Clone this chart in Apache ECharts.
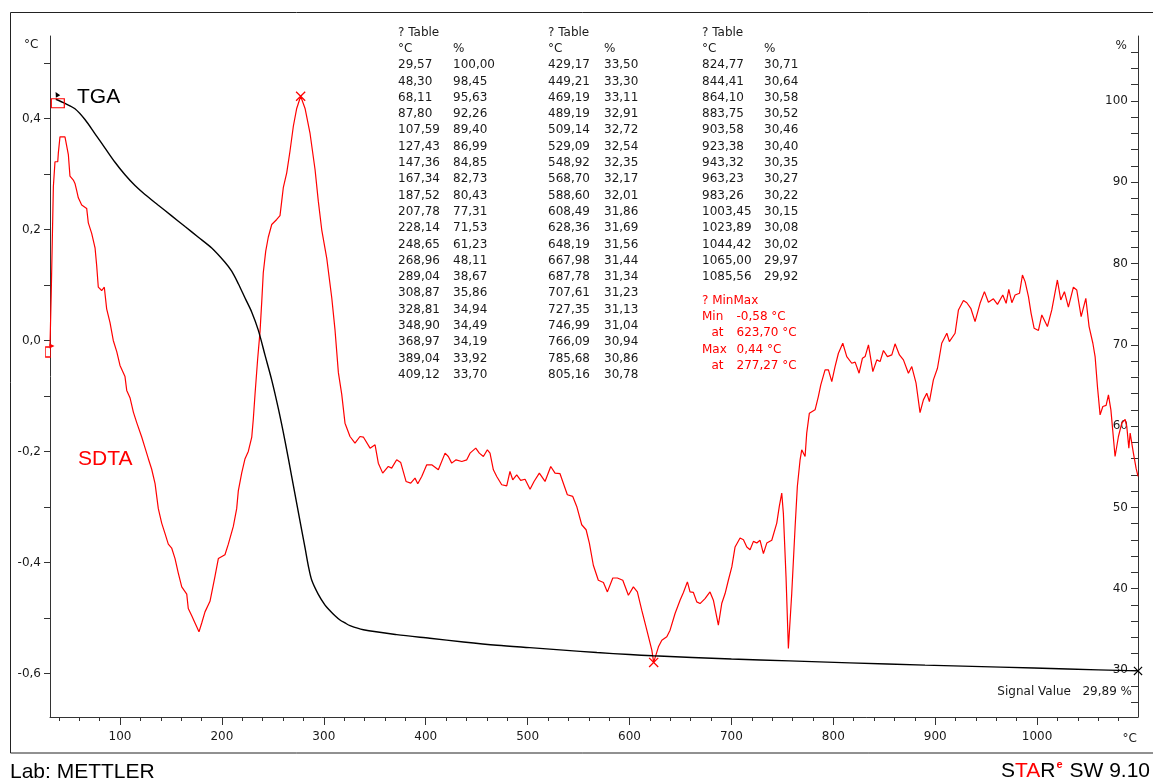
<!DOCTYPE html>
<html>
<head>
<meta charset="utf-8">
<title>TGA / SDTA</title>
<script src="https://cdn.jsdelivr.net/npm/echarts@6.0.0/dist/echarts.min.js"></script>
<style>
	html, body { margin: 0; padding: 0; background: #fff; }
	#chart { width: 1153px; height: 782px; }
</style>
</head>
<body>
<div id="chart"></div>
<script>
// SDTA signal (°C) against temperature (°C)
const sdtaTemp = [
	31.3, 32.5, 34.6, 36.2, 38.9, 39.5, 41.1, 46.0, 47.7, 49.3, 50.9, 54.2, 55.8, 57.5, 59.1, 62.4,
	67.3, 68.9, 72.2, 75.5, 77.1, 78.7, 82.0, 84.6, 86.9, 90.2, 93.4, 96.8, 100.0, 104.9, 106.6, 109.8,
	113.1, 116.4, 121.3, 124.5, 127.8, 131.1, 134.4, 137.6, 140.9, 144.2, 147.4, 150.7, 154.0, 157.2,
	160.6, 165.5, 167.0, 170.4, 173.6, 177.5, 180.2, 183.4, 188.3, 193.2, 196.5, 203.0, 206.3, 211.2,
	214.5, 216.1, 219.4, 222.7, 225.9, 229.3, 230.8, 232.5, 235.1, 237.4, 239.1, 240.6, 243.0, 245.5,
	248.9, 253.8, 257.0, 258.7, 260.3, 263.6, 266.8, 270.1, 273.4, 277.3, 281.6, 286.5, 291.4, 294.6,
	298.0, 302.9, 307.8, 311.0, 314.3, 317.6, 320.8, 325.7, 330.6, 335.5, 338.8, 345.4, 350.3, 353.5,
	357.8, 363.3, 366.6, 371.5, 375.5, 380.7, 385.3, 389.5, 392.2, 396.1, 401.0, 405.9, 412.4, 419.0,
	422.2, 425.5, 429.8, 435.4, 440.3, 443.5, 449.1, 452.6, 456.6, 460.5, 463.1, 466.4, 469.7, 474.6,
	479.5, 482.7, 485.4, 489.3, 493.2, 497.5, 502.4, 506.3, 511.5, 517.1, 522.7, 526.9, 531.8, 539.0,
	544.3, 548.2, 553.1, 557.4, 560.6, 564.5, 569.4, 574.4, 578.3, 583.6, 588.1, 593.4, 598.9, 603.8,
	607.7, 612.0, 617.0, 621.9, 623.7, 628.4, 631.7, 636.6, 639.8, 644.7, 649.6, 652.9, 656.8, 659.4,
	662.7, 666.0, 669.2, 674.1, 679.0, 682.3, 687.2, 690.5, 693.8, 697.0, 700.4, 703.6, 708.5, 711.8,
	715.1, 718.3, 721.6, 724.9, 728.1, 731.4, 734.7, 739.6, 744.5, 747.0, 749.4, 751.0, 753.6, 755.9,
	759.2, 762.5, 764.7, 767.4, 769.0, 772.3, 773.9, 776.5, 782.1, 785.3, 787.7, 791.9, 795.2, 798.5,
	801.7, 805.0, 809.3, 813.2, 818.1, 821.4, 825.3, 828.6, 831.2, 834.5, 838.8, 842.7, 845.9, 849.2,
	853.1, 857.4, 860.6, 864.9, 868.8, 873.7, 877.0, 881.2, 885.1, 888.4, 891.7, 894.3, 898.2, 902.2,
	906.4, 911.4, 913.9, 919.5, 922.8, 927.7, 931.0, 934.9, 939.1, 944.0, 948.3, 952.2, 957.1, 961.1,
	966.3, 969.6, 972.2, 975.2, 978.4, 982.7, 985.6, 988.2, 991.5, 994.1, 997.1, 1001.3, 1004.6, 1010.1,
	1014.4, 1019.9, 1023.2, 1026.8, 1030.7, 1035.6, 1038.9, 1043.2, 1047.8, 1051.0, 1054.7, 1056.9,
	1059.2, 1061.8, 1064.5, 1067.7, 1070.0, 1072.4, 1076.5, 1079.8, 1083.1, 1086.4, 1088.0, 1090.0,
	1091.3, 1094.5, 1097.1, 1099.0
];
const sdtaValue = [
	-0.010, 0.084, 0.277, 0.322, 0.322, 0.338, 0.367, 0.367, 0.366, 0.335, 0.296, 0.289, 0.283, 0.270, 0.257, 0.244,
	0.238, 0.212, 0.193, 0.167, 0.135, 0.096, 0.090, 0.096, 0.057, 0.032, 0.000, -0.020, -0.045, -0.065, -0.090, -0.103,
	-0.129, -0.148, -0.174, -0.193, -0.213, -0.232, -0.258, -0.303, -0.329, -0.348, -0.367, -0.374, -0.393, -0.419,
	-0.444, -0.457, -0.483, -0.496, -0.509, -0.525, -0.509, -0.489, -0.470, -0.425, -0.393, -0.386, -0.367, -0.335,
	-0.303, -0.271, -0.239, -0.213, -0.200, -0.174, -0.142, -0.097, -0.033, 0.016, 0.070, 0.122, 0.161, 0.186,
	0.209, 0.218, 0.225, 0.251, 0.276, 0.302, 0.341, 0.386, 0.418, 0.440, 0.418, 0.373, 0.308, 0.251,
	0.199, 0.148, 0.077, 0.019, -0.058, -0.097, -0.149, -0.173, -0.185, -0.173, -0.174, -0.194, -0.188, -0.221,
	-0.239, -0.227, -0.230, -0.215, -0.220, -0.254, -0.257, -0.248, -0.258, -0.245, -0.224, -0.224, -0.233, -0.203,
	-0.209, -0.221, -0.215, -0.218, -0.215, -0.203, -0.194, -0.203, -0.209, -0.197, -0.203, -0.233, -0.245, -0.260,
	-0.262, -0.236, -0.251, -0.242, -0.252, -0.250, -0.268, -0.254, -0.239, -0.254, -0.227, -0.239, -0.240, -0.278,
	-0.281, -0.299, -0.332, -0.341, -0.365, -0.405, -0.432, -0.436, -0.453, -0.428, -0.428, -0.432, -0.459, -0.444,
	-0.453, -0.486, -0.522, -0.558, -0.580, -0.552, -0.540, -0.534, -0.522, -0.492, -0.468, -0.454, -0.435, -0.453,
	-0.454, -0.471, -0.474, -0.465, -0.453, -0.468, -0.513, -0.474, -0.456, -0.432, -0.408, -0.372, -0.356, -0.359,
	-0.372, -0.377, -0.362, -0.365, -0.360, -0.384, -0.365, -0.360, -0.329, -0.299, -0.275, -0.312, -0.426, -0.555,
	-0.456, -0.336, -0.263, -0.215, -0.197, -0.209, -0.167, -0.131, -0.125, -0.101, -0.080, -0.053, -0.053, -0.074,
	-0.047, -0.023, -0.005, -0.029, -0.041, -0.039, -0.059, -0.032, -0.029, -0.008, -0.056, -0.035, -0.038, -0.018,
	-0.029, -0.026, -0.006, -0.026, -0.035, -0.059, -0.047, -0.077, -0.130, -0.107, -0.095, -0.110, -0.071, -0.050,
	-0.005, 0.013, -0.002, 0.013, 0.055, 0.072, 0.068, 0.058, 0.034, 0.067, 0.088, 0.069, 0.075, 0.065,
	0.082, 0.067, 0.092, 0.068, 0.082, 0.085, 0.118, 0.106, 0.079, 0.049, 0.022, 0.018, 0.046, 0.025,
	0.055, 0.109, 0.073, 0.088, 0.060, 0.096, 0.091, 0.043, 0.076, 0.025, -0.005, -0.029,
	-0.083, -0.134, -0.119, -0.117, -0.098, -0.125, -0.209, -0.173, -0.149, -0.142, -0.155, -0.194,
	-0.167, -0.203, -0.230, -0.245
];

// TGA mass (%) against temperature (°C)
const tgaTemp = [
	37.0, 46.0, 55.8, 65.6, 75.5, 85.3, 95.1, 104.9, 114.7, 124.5, 137.6, 150.7, 163.8, 176.9, 190.0,
	203.0, 209.6, 216.1, 222.7, 229.3, 235.7, 242.3, 248.9, 255.4, 261.9, 268.5, 275.0, 281.6, 284.8,
	288.1, 294.6, 301.2, 306.1, 311.0, 315.9, 320.8, 325.7, 338.8, 371.5, 404, 437, 470, 502, 535, 568,
	600, 623, 700, 757, 816, 890, 964, 1030, 1099
];
const tgaValue = [
	100.2, 99.69, 99.03, 97.71, 95.95, 94.20, 92.45, 90.91, 89.59, 88.49, 87.17, 85.86, 84.54, 83.23, 81.90,
	80.15, 79.05, 77.51, 75.75, 74.01, 71.80, 68.73, 65.66, 62.14, 58.19, 53.80, 49.41, 45.01, 42.82,
	41.07, 39.31, 37.99, 37.30, 36.68, 36.15, 35.79, 35.45, 34.95, 34.35, 33.90, 33.45, 33.05, 32.75, 32.45, 32.15,
	31.90, 31.75, 31.35, 31.12, 30.88, 30.60, 30.36, 30.12, 29.89
];

// axis ticks
const xTicks = [ 100, 200, 300, 400, 500, 600, 700, 800, 900, 1000 ];
const xMinorTicks = [
	40, 60, 80, 120, 140, 160, 180, 220, 240, 260, 280, 320, 340, 360, 380, 420, 440, 460, 480,
	520, 540, 560, 580, 620, 640, 660, 680, 720, 740, 760, 780, 820, 840, 860, 880,
	920, 940, 960, 980, 1020, 1040, 1060, 1080
];
const leftTicks = [ -0.6, -0.4, -0.2, 0, 0.2, 0.4 ];
const leftMinorTicks = [ -0.6, -0.5, -0.4, -0.3, -0.2, -0.1, 0, 0.1, 0.2, 0.3, 0.4, 0.5 ];
const rightTicks = [ 30, 40, 50, 60, 70, 80, 90, 100 ];
const rightMinorTicks = [
	26, 28, 30, 32, 34, 36, 38, 40, 42, 44, 46, 48, 50, 52, 54, 56, 58, 60, 62, 64, 66, 68,
	70, 72, 74, 76, 78, 80, 82, 84, 86, 88, 90, 92, 94, 96, 98, 100, 102, 104, 106
];

// evaluation results printed on the plot
const sdtaMin = [ 623.70, -0.58 ];
const sdtaMax = [ 277.27, 0.44 ];
const signalText = 'Signal Value   29,89 %';

const table1Temp = [ '29,57', '48,30', '68,11', '87,80', '107,59', '127,43', '147,36', '167,34', '187,52', '207,78',
	'228,14', '248,65', '268,96', '289,04', '308,87', '328,81', '348,90', '368,97', '389,04', '409,12' ];
const table1Pct = [ '100,00', '98,45', '95,63', '92,26', '89,40', '86,99', '84,85', '82,73', '80,43', '77,31',
	'71,53', '61,23', '48,11', '38,67', '35,86', '34,94', '34,49', '34,19', '33,92', '33,70' ];
const table2Temp = [ '429,17', '449,21', '469,19', '489,19', '509,14', '529,09', '548,92', '568,70', '588,60', '608,49',
	'628,36', '648,19', '667,98', '687,78', '707,61', '727,35', '746,99', '766,09', '785,68', '805,16' ];
const table2Pct = [ '33,50', '33,30', '33,11', '32,91', '32,72', '32,54', '32,35', '32,17', '32,01', '31,86',
	'31,69', '31,56', '31,44', '31,34', '31,23', '31,13', '31,04', '30,94', '30,86', '30,78' ];
const table3Temp = [ '824,77', '844,41', '864,10', '883,75', '903,58', '923,38', '943,32', '963,23', '983,26',
	'1003,45', '1023,89', '1044,42', '1065,00', '1085,56' ];
const table3Pct = [ '30,71', '30,64', '30,58', '30,52', '30,46', '30,40', '30,35', '30,27', '30,22',
	'30,15', '30,08', '30,02', '29,97', '29,92' ];
const minMaxLabels = [ '? MinMax', 'Min', '', 'Max', '' ];
const minMaxAt = [ '', '', 'at', '', 'at' ];
const minMaxValues = [ '', '-0,58 °C', '623,70 °C', '0,44 °C', '277,27 °C' ];

const RED = '#ff0000';
const INK = '#1a1a1a';
const SMALL_FONT = '12px "DejaVu Sans"';
const CROSS = 'path://M0,0.9L0.9,0L10,9.1L9.1,10ZM9.1,0L10,0.9L0.9,10L0,9.1Z';

const starChart = {
	rowHeight: 16.3,

	init: function () {
		const chart = echarts.init( document.getElementById( 'chart' ), null, { renderer: 'canvas' } );
		chart.setOption( {
			animation: false,
			backgroundColor: '#fff',
			grid: { left: 50, right: 15, top: 36, bottom: 65, containLabel: false, outerBoundsMode: 'none' },
			xAxis: this.buildXAxes(),
			yAxis: this.buildYAxes(),
			series: this.buildSeries(),
			graphic: this.buildTexts()
		} );
	},

	pairs: function ( xs, ys ) {
		return xs.map( ( x, i ) => [ x, ys[ i ] ] );
	},

	buildXAxes: function () {
		const base = {
			type: 'value',
			position: 'bottom',
			min: 31.3,
			max: 1099,
			splitLine: { show: false }
		};
		return [
			Object.assign( {}, base, {
				axisLine: { show: true, onZero: false, lineStyle: { color: '#333', width: 1 } },
				axisTick: { show: true, length: 8, customValues: xTicks, lineStyle: { color: '#333' } },
				axisLabel: {
					show: true,
					customValues: xTicks,
					margin: 14,
					color: INK,
					fontSize: 12,
					fontFamily: 'DejaVu Sans',
					formatter: ( v ) => String( v )
				}
			} ),
			// minor ticks every 20 °C
			Object.assign( {}, base, {
				axisLine: { show: false, onZero: false },
				axisTick: { show: true, length: 4, customValues: xMinorTicks, lineStyle: { color: '#333' } },
				axisLabel: { show: false }
			} )
		];
	},

	buildYAxes: function () {
		return [
			{
				type: 'value',
				position: 'left',
				min: -0.6784,
				max: 0.5486,
				splitLine: { show: false },
				axisLine: { show: true, onZero: false, lineStyle: { color: '#333', width: 1 } },
				axisTick: { show: true, length: 6, customValues: leftMinorTicks, lineStyle: { color: '#333' } },
				axisLabel: {
					show: true,
					customValues: leftTicks,
					margin: 9,
					color: INK,
					fontSize: 12,
					fontFamily: 'DejaVu Sans',
					formatter: ( v ) => v.toFixed( 1 ).replace( '.', ',' )
				}
			},
			{
				type: 'value',
				position: 'right',
				min: 24.22,
				max: 107.98,
				splitLine: { show: false },
				axisLine: { show: true, onZero: false, lineStyle: { color: '#333', width: 1 } },
				axisTick: { show: true, inside: true, length: 7, customValues: rightMinorTicks, lineStyle: { color: '#333' } },
				axisLabel: {
					show: true,
					inside: true,
					customValues: rightTicks,
					margin: 10,
					color: INK,
					fontSize: 12,
					fontFamily: 'DejaVu Sans'
				}
			}
		];
	},

	buildSeries: function () {
		return [
			{
				type: 'line',
				name: 'SDTA',
				xAxisIndex: 0,
				yAxisIndex: 0,
				data: this.pairs( sdtaTemp, sdtaValue ),
				showSymbol: false,
				lineStyle: { color: RED, width: 1.2 },
				markPoint: {
					silent: true,
					label: { show: false },
					itemStyle: { color: RED },
					data: [
						{ coord: sdtaMin, symbol: CROSS, symbolSize: 10 },
						{ coord: sdtaMax, symbol: CROSS, symbolSize: 10 },
						// start of curve markers
						{ coord: [ sdtaTemp[ 0 ], sdtaValue[ 0 ] ], symbol: 'triangle', symbolRotate: -90, symbolSize: 5, symbolOffset: [ 2, 0 ] },
						{
							coord: [ sdtaTemp[ 0 ], sdtaValue[ 0 ] ],
							symbol: 'rect',
							symbolSize: [ 5, 10 ],
							symbolOffset: [ -2, 6 ],
							itemStyle: { color: 'rgba(0,0,0,0)', borderColor: RED, borderWidth: 1 }
						}
					]
				}
			},
			{
				type: 'line',
				name: 'TGA',
				xAxisIndex: 0,
				yAxisIndex: 1,
				data: this.pairs( tgaTemp, tgaValue ),
				showSymbol: false,
				smooth: 0.3,
				lineStyle: { color: '#000', width: 1.4 },
				markPoint: {
					silent: true,
					label: { show: false },
					itemStyle: { color: '#000' },
					data: [
						{ coord: [ tgaTemp[ tgaTemp.length - 1 ], tgaValue[ tgaValue.length - 1 ] ], symbol: CROSS, symbolSize: 9 },
						{ coord: [ tgaTemp[ 0 ], tgaValue[ 0 ] ], symbol: 'triangle', symbolRotate: 30, symbolSize: 5, symbolOffset: [ 1, -5 ] },
						{
							coord: [ tgaTemp[ 0 ], tgaValue[ 0 ] ],
							symbol: 'rect',
							symbolSize: [ 13, 9 ],
							symbolOffset: [ 2, 4 ],
							itemStyle: { color: 'rgba(0,0,0,0)', borderColor: RED, borderWidth: 1 }
						}
					]
				}
			}
		];
	},

	textBlock: function ( x, y, lines, fill ) {
		return {
			type: 'text',
			x: x,
			y: y,
			silent: true,
			style: {
				text: lines.join( '\n' ),
				font: SMALL_FONT,
				fill: fill || INK,
				lineHeight: this.rowHeight,
				textVerticalAlign: 'top',
				verticalAlign: 'top'
			}
		};
	},

	label: function ( x, y, text, font, fill, align ) {
		return {
			type: 'text',
			x: x,
			y: y,
			silent: true,
			style: { text: text, font: font, fill: fill, align: align || 'left', verticalAlign: 'middle' }
		};
	},

	buildTexts: function () {
		const top = 24.4;
		const texts = [
			// outer frame
			{
				type: 'rect',
				silent: true,
				shape: { x: 10.5, y: 12.5, width: 1150, height: 740.5 },
				style: { fill: 'none', stroke: '#222', lineWidth: 1 }
			},
			// measurement tables
			this.textBlock( 398, top, [ '? Table', '°C' ].concat( table1Temp ) ),
			this.textBlock( 453, top, [ '', '%' ].concat( table1Pct ) ),
			this.textBlock( 548, top, [ '? Table', '°C' ].concat( table2Temp ) ),
			this.textBlock( 604, top, [ '', '%' ].concat( table2Pct ) ),
			this.textBlock( 702, top, [ '? Table', '°C' ].concat( table3Temp ) ),
			this.textBlock( 764, top, [ '', '%' ].concat( table3Pct ) ),
			this.textBlock( 702, 292.5, minMaxLabels, RED ),
			this.textBlock( 711.5, 292.5, minMaxAt, RED ),
			this.textBlock( 736.5, 292.5, minMaxValues, RED ),
			// axis units
			this.label( 24, 45, '°C', SMALL_FONT, INK ),
			this.label( 1127, 46, '%', SMALL_FONT, INK, 'right' ),
			this.label( 1137, 739, '°C', SMALL_FONT, INK, 'right' ),
			this.label( 1132, 692, signalText, SMALL_FONT, INK, 'right' ),
			// curve names
			this.label( 77, 97, 'TGA', '21px "Liberation Sans"', '#000' ),
			this.label( 78, 459, 'SDTA', '21px "Liberation Sans"', RED ),
			// footer
			this.label( 10, 772, 'Lab: METTLER', '21px "Liberation Sans"', '#000' ),
			{
				type: 'text',
				x: 1150,
				y: 771,
				silent: true,
				style: {
					text: '{a|S}{b|TA}{a|R}{c|e}{a| SW 9.10}',
					align: 'right',
					verticalAlign: 'middle',
					rich: {
						a: { font: '21px "Liberation Sans"', fill: '#000', lineHeight: 24 },
						b: { font: '21px "Liberation Sans"', fill: RED, lineHeight: 24 },
						c: { font: 'bold 11px "Liberation Sans"', fill: RED, lineHeight: 24, verticalAlign: 'top', padding: [ 0, 1, 0, 1 ] }
					}
				}
			}
		];
		return texts;
	}
};

starChart.init();
</script>
</body>
</html>
